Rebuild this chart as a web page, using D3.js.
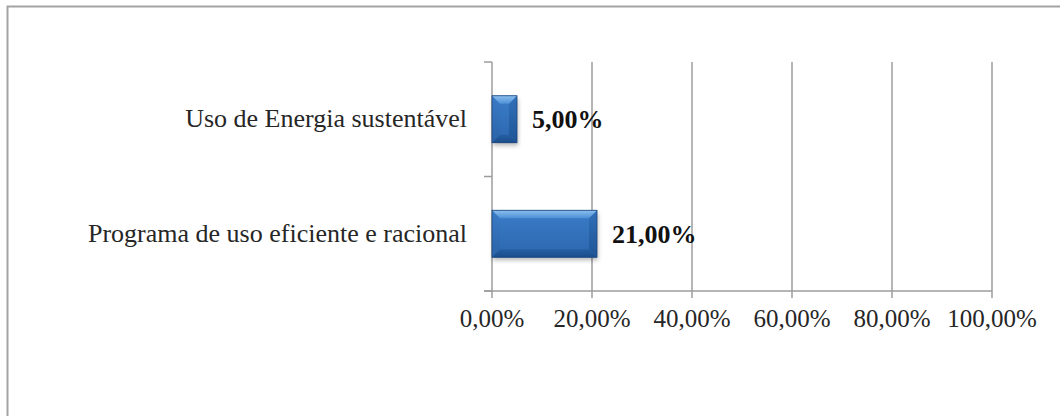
<!DOCTYPE html>
<html>
<head>
<meta charset="utf-8">
<script src="https://cdn.jsdelivr.net/npm/d3@7"></script>
<style>
  html, body { margin: 0; padding: 0; background: #fff; }
  svg { display: block; }
</style>
</head>
<body>
<svg id="chart" width="1060" height="416"></svg>
<script>
// Categories, top to bottom, and their shares
const categories = ["Uso de Energia sustentável", "Programa de uso eficiente e racional"];
const values = [0.05, 0.21];
const valueLabels = ["5,00%", "21,00%"];
const tickValues = [0, 0.2, 0.4, 0.6, 0.8, 1.0];
const tickLabels = ["0,00%", "20,00%", "40,00%", "60,00%", "80,00%", "100,00%"];

const W = 1060, H = 416;
const plot = { left: 492, right: 992, top: 62, bottom: 291 };
const font = "'Liberation Serif', 'Times New Roman', serif";
const gridColor = "#9c9c9c";

const svg = d3.select("#chart");

// Chart frame
svg.append("rect")
  .attr("x", 7.5).attr("y", 6.5)
  .attr("width", W + 20).attr("height", H + 20)
  .attr("fill", "#fff")
  .attr("stroke", "#a3a3a3").attr("stroke-width", 2);

const x = d3.scaleLinear().domain([0, 1]).range([plot.left, plot.right]);
const y = d3.scaleBand().domain(categories).range([plot.top, plot.bottom]).padding(0);

const defs = svg.append("defs");
const shadow = defs.append("filter").attr("id", "shadow")
  .attr("x", "-20%").attr("y", "-20%").attr("width", "140%").attr("height", "160%");
shadow.append("feDropShadow")
  .attr("dx", 1).attr("dy", 3).attr("stdDeviation", 2)
  .attr("flood-color", "#000").attr("flood-opacity", 0.28);

function vGrad(id, stops) {
  const g = defs.append("linearGradient").attr("id", id)
    .attr("x1", 0).attr("y1", 0).attr("x2", 0).attr("y2", 1);
  stops.forEach(([o, c]) => g.append("stop").attr("offset", o).attr("stop-color", c));
}
vGrad("faceGrad", [[0, "#3b7dc8"], [1, "#2b66ae"]]);
vGrad("topGrad", [[0, "#8cc0ee"], [1, "#4d8fd6"]]);
vGrad("botGrad", [[0, "#255f a3".replace(" ", "")], [1, "#1b4c8a"]]);
vGrad("sideGrad", [[0, "#3a7bc6"], [1, "#2a63a9"]]);
vGrad("rightGrad", [[0, "#3070b9"], [1, "#1f5596"]]);

// Vertical gridlines
svg.append("g").selectAll("line")
  .data(tickValues.slice(1))
  .join("line")
  .attr("x1", d => x(d)).attr("x2", d => x(d))
  .attr("y1", plot.top).attr("y2", plot.bottom)
  .attr("stroke", gridColor).attr("stroke-width", 1.5);

// Value axis (bottom)
const xAxis = svg.append("g");
xAxis.append("line")
  .attr("x1", plot.left - 8).attr("x2", x(1))
  .attr("y1", plot.bottom).attr("y2", plot.bottom)
  .attr("stroke", gridColor).attr("stroke-width", 1.5);
xAxis.selectAll("line.tick")
  .data(tickValues)
  .join("line").attr("class", "tick")
  .attr("x1", d => x(d)).attr("x2", d => x(d))
  .attr("y1", plot.bottom).attr("y2", plot.bottom + 7)
  .attr("stroke", gridColor).attr("stroke-width", 1.5);
xAxis.selectAll("text")
  .data(tickValues)
  .join("text")
  .attr("x", d => x(d)).attr("y", 327)
  .attr("text-anchor", "middle")
  .attr("font-family", font).attr("font-size", 25)
  .attr("fill", "#262626")
  .text((d, i) => tickLabels[i]);

// Category axis (left)
const yAxis = svg.append("g");
yAxis.append("line")
  .attr("x1", plot.left).attr("x2", plot.left)
  .attr("y1", plot.top).attr("y2", plot.bottom)
  .attr("stroke", gridColor).attr("stroke-width", 1.5);
const bandEdges = categories.map(c => y(c)).concat([plot.bottom]);
yAxis.selectAll("line.tick")
  .data(bandEdges)
  .join("line").attr("class", "tick")
  .attr("x1", plot.left - 8).attr("x2", plot.left)
  .attr("y1", d => d).attr("y2", d => d)
  .attr("stroke", gridColor).attr("stroke-width", 1.5);
yAxis.selectAll("text")
  .data(categories)
  .join("text")
  .attr("x", plot.left - 25)
  .attr("y", d => y(d) + y.bandwidth() / 2 + 8)
  .attr("text-anchor", "end")
  .attr("font-family", font).attr("font-size", 26)
  .attr("fill", "#262626")
  .text(d => d);

// Bevelled bars
const barH = y.bandwidth() * 0.41;
const bev = 8;
const bars = svg.append("g").selectAll("g")
  .data(categories.map((c, i) => ({ c, v: values[i], label: valueLabels[i] })))
  .join("g");

bars.each(function(d) {
  const g = d3.select(this);
  const x0 = x(0), x1 = x(d.v);
  const y0 = y(d.c) + (y.bandwidth() - barH) / 2, y1 = y0 + barH;
  const b = Math.min(bev, (x1 - x0) / 2, barH / 2);
  g.append("rect")
    .attr("x", x0).attr("y", y0)
    .attr("width", x1 - x0).attr("height", barH)
    .attr("fill", "#2c6cb6")
    .attr("filter", "url(#shadow)");
  // face
  g.append("rect")
    .attr("x", x0).attr("y", y0)
    .attr("width", x1 - x0).attr("height", barH)
    .attr("fill", "url(#faceGrad)");
  // left facet
  g.append("polygon")
    .attr("points", [[x0, y0], [x0 + b, y0 + b], [x0 + b, y1 - b], [x0, y1]].join(" "))
    .attr("fill", "url(#sideGrad)");
  // right facet
  g.append("polygon")
    .attr("points", [[x1, y0], [x1 - b, y0 + b], [x1 - b, y1 - b], [x1, y1]].join(" "))
    .attr("fill", "url(#rightGrad)");
  // top facet
  g.append("polygon")
    .attr("points", [[x0, y0], [x1, y0], [x1 - b, y0 + b], [x0 + b, y0 + b]].join(" "))
    .attr("fill", "url(#topGrad)");
  // bottom facet
  g.append("polygon")
    .attr("points", [[x0, y1], [x1, y1], [x1 - b, y1 - b], [x0 + b, y1 - b]].join(" "))
    .attr("fill", "url(#botGrad)");
  g.append("rect")
    .attr("x", x0).attr("y", y0)
    .attr("width", x1 - x0).attr("height", barH)
    .attr("fill", "none").attr("stroke", "#1c477e").attr("stroke-width", 0.8);
  g.append("text")
    .attr("x", x1 + 15)
    .attr("y", y0 + barH / 2 + 9)
    .attr("font-family", font).attr("font-size", 26)
    .attr("font-weight", "bold")
    .attr("fill", "#111")
    .text(d.label);
});
</script>
</body>
</html>
